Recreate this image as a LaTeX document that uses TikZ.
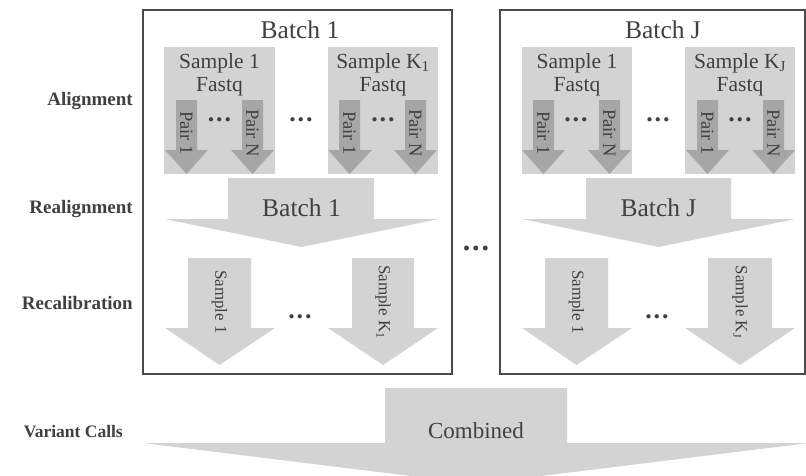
\documentclass[tikz,border=0pt]{standalone}
\usepackage{fontspec}
\setmainfont{Liberation Serif}
\definecolor{lightg}{HTML}{D3D3D3}
\definecolor{darkg}{HTML}{A6A6A6}
\definecolor{txt}{HTML}{404040}
\definecolor{frame}{HTML}{4A4A4A}
% color, shaft left, shaft right, top, head y, head left, head right, tip x, tip y
\newcommand\dnarrowshape[9]{%
  \fill[#1] (#2,#4) -- (#3,#4) -- (#3,#5) -- (#7,#5) -- (#8,#9) -- (#6,#5) -- (#2,#5) -- cycle;}
\newcommand\mydots[1]{{\fontsize{#1}{#1}\selectfont\bfseries .\kern2pt.\kern2pt.}}
\begin{document}
\begin{tikzpicture}[x=1pt,y=-1pt,
  every node/.style={text=txt,inner sep=0pt},
  titletext/.style={font=\fontsize{25.5}{25.5}\selectfont,anchor=base},
  sampletext/.style={font=\fontsize{21.5}{21.5}\selectfont,anchor=base},
  pairtext/.style={font=\fontsize{18.5}{18.5}\selectfont,rotate=-90},
  calltext/.style={font=\fontsize{17}{17}\selectfont,rotate=-90},
  rowlabel/.style={font=\fontsize{19}{19}\selectfont\bfseries,anchor=base east},
  dotnode/.style={anchor=base},
  batchbox/.style={draw=frame,line width=1.5pt},
  samplebox/.style={fill=lightg}]
\useasboundingbox (0,0) rectangle (806,475);
\clip (0,0) rectangle (806,475);
\fill[white] (0,0) rectangle (806,475);

% batch frames
\draw[batchbox] (143,10) rectangle (452,374);
\draw[batchbox] (500,10) rectangle (805,374);

% titles
\node[titletext] (t1) at (300,38) {Batch 1};
\node[titletext] (tJ) at (663,38) {Batch J};

% sample boxes
\fill[samplebox] (164,47) rectangle (275,174);
\fill[samplebox] (328,47) rectangle (438,174);
\fill[samplebox] (522,47) rectangle (632,174);
\fill[samplebox] (685,47) rectangle (795,174);

\node[sampletext] (s11) at (219.5,68) {Sample 1};
\node[sampletext] (f11) at (219.5,91) {Fastq};
\node[sampletext] (s1K) at (383,68) {Sample K\textsubscript{1}};
\node[sampletext] (f1K) at (383,91) {Fastq};
\node[sampletext] (sJ1) at (577,68) {Sample 1};
\node[sampletext] (fJ1) at (577,91) {Fastq};
\node[sampletext] (sJK) at (740,68) {Sample K\textsubscript{J}};
\node[sampletext] (fJK) at (740,91) {Fastq};

% pair arrows
\dnarrowshape{darkg}{176}{197}{100}{150}{165}{208}{186.5}{174}
\dnarrowshape{darkg}{242}{263}{100}{150}{231}{274}{252.5}{174}
\dnarrowshape{darkg}{339}{360}{100}{150}{328}{372}{349.5}{174}
\dnarrowshape{darkg}{405}{426}{100}{150}{394}{437}{415.5}{174}
\dnarrowshape{darkg}{533}{554}{100}{150}{522}{565}{543.5}{174}
\dnarrowshape{darkg}{599}{620}{100}{150}{588}{631}{609.5}{174}
\dnarrowshape{darkg}{697}{718}{100}{150}{686}{729}{707.5}{174}
\dnarrowshape{darkg}{763}{784}{100}{150}{752}{795}{773.5}{174}

\node[pairtext] (p111) at (186.5,133) {Pair 1};
\node[pairtext] (p11N) at (252.5,133) {Pair N};
\node[pairtext] (p1K1) at (349.5,133) {Pair 1};
\node[pairtext] (p1KN) at (415.5,133) {Pair N};
\node[pairtext] (pJ11) at (543.5,133) {Pair 1};
\node[pairtext] (pJ1N) at (609.5,133) {Pair N};
\node[pairtext] (pJK1) at (707.5,133) {Pair 1};
\node[pairtext] (pJKN) at (773.5,133) {Pair N};

\node[dotnode] (d1) at (219.5,121) {\mydots{26}};
\node[dotnode] (d2) at (301,121) {\mydots{26}};
\node[dotnode] (d3) at (383,121) {\mydots{26}};
\node[dotnode] (d4) at (576,121) {\mydots{26}};
\node[dotnode] (d5) at (658,121) {\mydots{26}};
\node[dotnode] (d6) at (740,121) {\mydots{26}};

% realignment arrows
\dnarrowshape{lightg}{228}{374}{178}{219}{165}{439}{301.5}{247}
\dnarrowshape{lightg}{586}{731}{178}{219}{522}{795}{658.5}{247}
\node[titletext] (r1) at (301.5,216) {Batch 1};
\node[titletext] (rJ) at (658.5,216) {Batch J};

% recalibration arrows
\dnarrowshape{lightg}{188}{251}{258}{328}{165}{275}{219.5}{365}
\dnarrowshape{lightg}{352}{414}{258}{328}{328}{438}{383}{365}
\dnarrowshape{lightg}{545}{608}{258}{328}{522}{632}{576.5}{365}
\dnarrowshape{lightg}{708}{772}{258}{328}{685}{795}{740}{365}
\node[calltext] (c11) at (219.5,302) {Sample 1};
\node[calltext] (c1K) at (383,302) {Sample K\textsubscript{1}};
\node[calltext] (cJ1) at (576.5,302) {Sample 1};
\node[calltext] (cJK) at (740,302) {Sample K\textsubscript{J}};
\node[dotnode] (d7) at (300,318) {\mydots{26}};
\node[dotnode] (d8) at (657,318) {\mydots{26}};

% between batches
\node[dotnode] (dm) at (476,250) {\mydots{30}};

% combined arrow
\dnarrowshape{lightg}{385}{567}{388}{443}{143}{809}{476}{484}
\node[titletext,font=\fontsize{23}{23}\selectfont] (comb) at (476,438) {Combined};

% row labels
\node[rowlabel] (la) at (133,105) {Alignment};
\node[rowlabel] (lb) at (133,213) {Realignment};
\node[rowlabel] (lc) at (133,309) {Recalibration};
\node[rowlabel,font=\fontsize{17.5}{17.5}\selectfont\bfseries] (ld) at (123,437) {Variant Calls};
\end{tikzpicture}
\end{document}
